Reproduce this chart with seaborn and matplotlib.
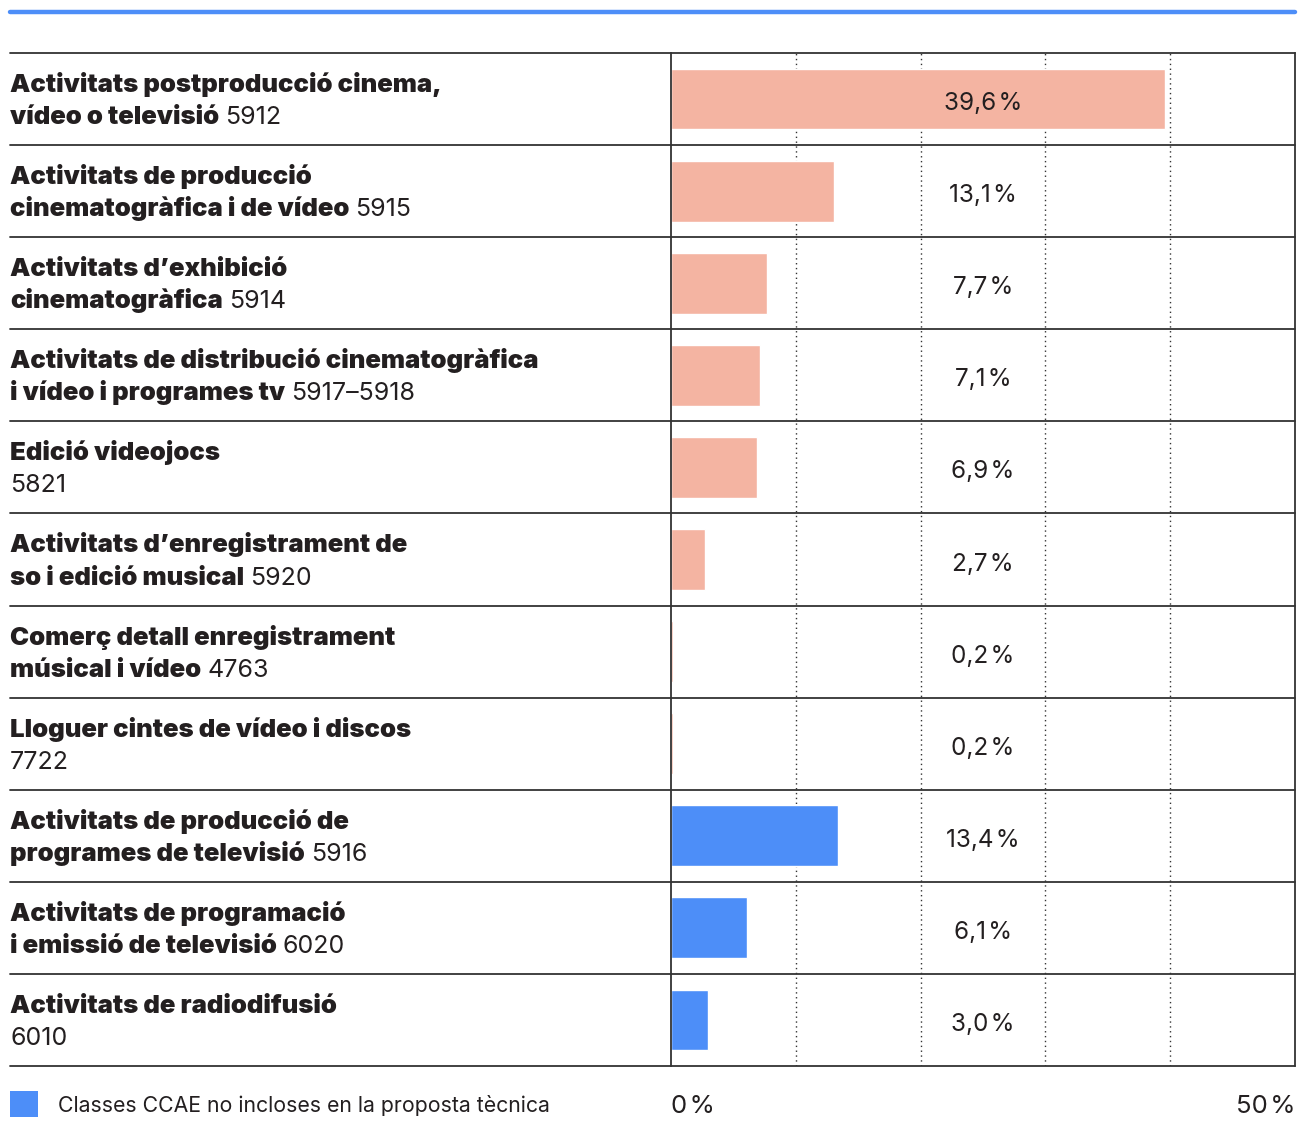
import matplotlib
matplotlib.use("Agg")
import matplotlib.pyplot as plt
import matplotlib.transforms as mtransforms
from matplotlib.lines import Line2D
from matplotlib.patches import Rectangle
import pandas as pd
import seaborn as sns

# data
bold_line1 = [
    "Activitats postproducció cinema,",
    "Activitats de producció",
    "Activitats d’exhibició",
    "Activitats de distribució cinematogràfica",
    "Edició videojocs",
    "Activitats d’enregistrament de",
    "Comerç detall enregistrament",
    "Lloguer cintes de vídeo i discos",
    "Activitats de producció de",
    "Activitats de programació",
    "Activitats de radiodifusió",
]
bold_line2 = [
    "vídeo o televisió",
    "cinematogràfica i de vídeo",
    "cinematogràfica",
    "i vídeo i programes tv",
    "",
    "so i edició musical",
    "músical i vídeo",
    "",
    "programes de televisió",
    "i emissió de televisió",
    "",
]
codes = ["5912", "5915", "5914", "5917–5918", "5821", "5920",
         "4763", "7722", "5916", "6020", "6010"]
values = [39.6, 13.1, 7.7, 7.1, 6.9, 2.7, 0.2, 0.2, 13.4, 6.1, 3.0]
groups = ["incloses"] * 8 + ["no incloses"] * 3
legend_label = "Classes CCAE no incloses en la proposta tècnica"

SALMON = "#F4B4A2"
BLUE = "#4D8EF8"
INK = "#231F20"
LINE = "#333333"
PCT = "\u200a%"  # narrow gap before the percent sign

df = pd.DataFrame({"label": codes, "value": values, "group": groups})

sns.set_theme(style="white")
plt.rcParams["font.family"] = ["Inter", "DejaVu Sans"]

W, H = 1299, 1140
fig = plt.figure(figsize=(W / 100, H / 100), dpi=100)
ax = fig.add_axes([671 / W, 1 - 1066 / H, (1295 - 671) / W, (1066 - 53) / H])

sns.barplot(data=df, x="value", y="label", hue="group", orient="h",
            palette={"incloses": SALMON, "no incloses": BLUE},
            dodge=False, width=0.66, legend=False, saturation=1, ax=ax)

n = len(values)
ax.set_xlim(0, 50)
ax.set_ylim(n - 0.5, -0.5)
ax.set_xlabel("")
ax.set_ylabel("")
ax.set_xticks([])
ax.set_yticks([])
for side in ["top", "bottom"]:
    ax.spines[side].set_visible(False)
for side in ["left", "right"]:
    ax.spines[side].set_color(LINE)
    ax.spines[side].set_linewidth(1.3)

# dotted grid
for gx in [10, 20, 30, 40]:
    ax.axvline(gx, color=LINE, lw=1, ls=(0, (1, 2.5)), zorder=0)

# row separators extending across labels
xmin = (10 - 671) / (1295 - 671)
for i in range(n + 1):
    ax.axhline(i - 0.5, xmin=xmin, xmax=1, color=LINE, lw=1.3, clip_on=False)

# value labels
for i, v in enumerate(values):
    txt = f"{v:.1f}".replace(".", ",") + PCT
    ax.text(25, i + 0.12, txt, ha="center", va="baseline", fontsize=17.5,
            color=INK)

# row labels
lab_tr = mtransforms.blended_transform_factory(fig.transFigure, ax.transData)
x0 = 10 / W
BOLD = 18.5
REG = 18
renderer = fig.canvas.get_renderer()
for i in range(n):
    y1 = i - 0.5 + 39 / 92
    y2 = i - 0.5 + 71 / 92
    ax.text(x0, y1, bold_line1[i], transform=lab_tr, ha="left", va="baseline",
            fontsize=BOLD, fontweight=900, color=INK)
    code_x = x0
    if bold_line2[i]:
        t2 = ax.text(x0, y2, bold_line2[i], transform=lab_tr, ha="left",
                     va="baseline", fontsize=BOLD, fontweight=900, color=INK)
        ext = t2.get_window_extent(renderer)
        code_x = (ext.x1 + 6) / W
    ax.text(code_x, y2, codes[i], transform=lab_tr, ha="left", va="baseline",
            fontsize=REG, color=INK)

# axis end labels
tick_tr = mtransforms.blended_transform_factory(ax.transData, fig.transFigure)
ax.text(0, 1 - 1113 / H, "0" + PCT, transform=tick_tr, ha="left",
        va="baseline", fontsize=18.5, color=INK)
ax.text(50, 1 - 1113 / H, "50" + PCT, transform=tick_tr, ha="right",
        va="baseline", fontsize=18.5, color=INK)

# top blue rule
fig.add_artist(Line2D([10 / W, 1295 / W], [1 - 12 / H, 1 - 12 / H],
                      color=BLUE, lw=3.2, transform=fig.transFigure))

# legend
fig.add_artist(Rectangle((10 / W, 1 - 1117 / H), 28 / W, 26 / H,
                         transform=fig.transFigure, color=BLUE, lw=0))
fig.text(58 / W, 1 - 1105 / H, legend_label, ha="left", va="center",
         fontsize=15.3, color=INK)

fig.savefig("out.png", dpi=100)
